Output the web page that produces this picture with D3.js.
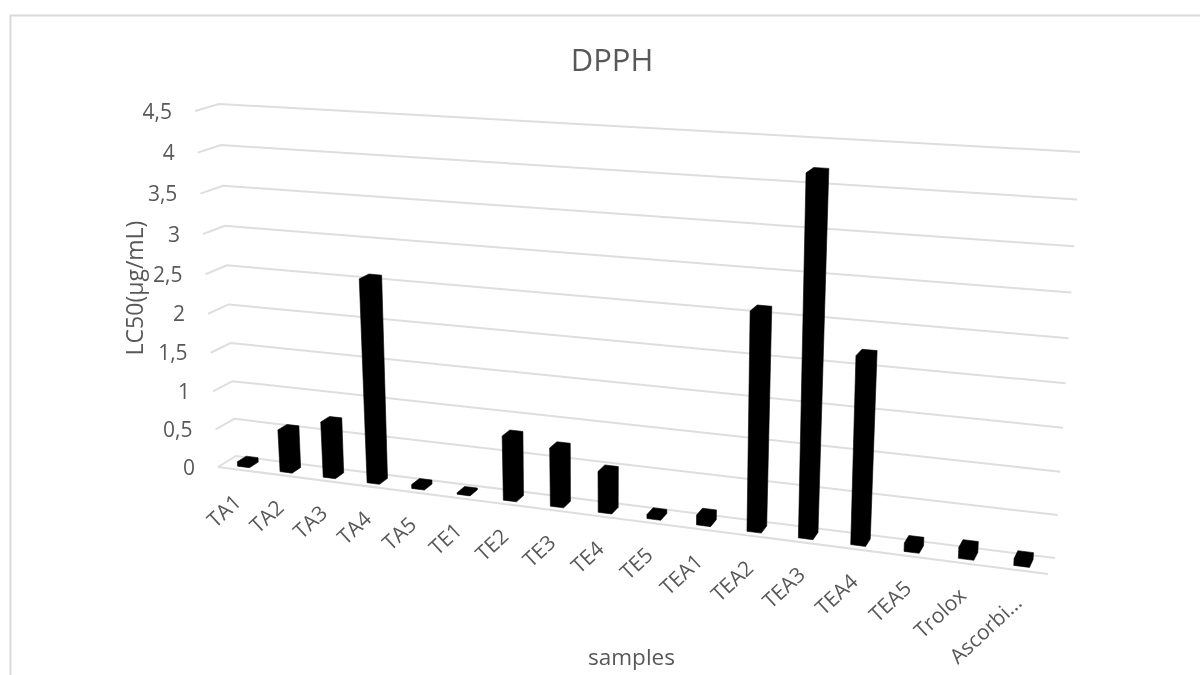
<!DOCTYPE html>
<html><head><meta charset="utf-8">
<script src="https://cdnjs.cloudflare.com/ajax/libs/d3/7.8.5/d3.min.js"></script>
<style>html,body{margin:0;padding:0;background:#fff;overflow:hidden}svg{display:block}text{font-family:"Open Sans",sans-serif;fill:#595959}</style>
</head><body><svg id="c" width="1200" height="675"></svg>
<script>
const categories = ["TA1","TA2","TA3","TA4","TA5","TE1","TE2","TE3","TE4","TE5","TEA1","TEA2","TEA3","TEA4","TEA5","Trolox","Ascorbi…"];
const values = [0.06,0.55,0.72,2.58,0.05,0.02,0.81,0.73,0.51,0.05,0.12,2.61,4.2,2.21,0.1,0.13,0.08];
const tickValues = [0,0.5,1,1.5,2,2.5,3,3.5,4,4.5];
const tickLabels = ["0","0,5","1","1,5","2","2,5","3","3,5","4","4,5"];

const svg = d3.select("#c");
const defs = svg.append("defs");
defs.append("filter").attr("id","soft").append("feGaussianBlur").attr("stdDeviation",0.45);
const root = svg.append("g").attr("filter","url(#soft)");
const GRID = "#dedede";
const mix = (a,b,k)=>a+(b-a)*k;
const band = d3.scaleBand().domain(categories).range([0,1]).paddingInner(0.72).paddingOuter(0.36);
const warpX = t => 0.86*t/(1-0.14*t);
const warpV = w => 0.945*w/(1-0.055*w);
const valueScale = d3.scaleLinear().domain([0,4.5]).range([0,1]);
const frontX = d3.scaleLinear().range([218,1048]), frontY = d3.scaleLinear().range([467,574]);
const backX = d3.scaleLinear().range([236,1055]), backY = d3.scaleLinear().range([456,558]);
const liftXF = d3.scaleLinear().range([-23,20]), liftYF = d3.scaleLinear().range([-356,-410]);
const liftXB = d3.scaleLinear().range([-17,25]), liftYB = d3.scaleLinear().range([-352,-406]);
function project(t,z,v){
  const u = warpX(t), w = warpV(valueScale(v));
  return [
    mix(frontX(u),backX(u),z)+w*mix(liftXF(u),liftXB(u),z),
    mix(frontY(u),backY(u),z)+w*mix(liftYF(u),liftYB(u),z)
  ];
}
const line = d3.line();
root.append("path").attr("d",line([[10.5,675],[10.5,15.5],[1200,15.5]])).attr("fill","none").attr("stroke","#d9d9d9").attr("stroke-width",2);
root.append("g").selectAll("path").data(tickValues).join("path")
  .attr("d",v=>line([project(0,0,v),project(0,1,v),project(1,1,v)]))
  .attr("fill","none").attr("stroke",GRID).attr("stroke-width",2);
root.append("path").attr("d",line([project(0,0,0),project(1,0,0)])).attr("fill","none").attr("stroke",GRID).attr("stroke-width",2);
root.append("g").selectAll("text").data(tickValues).join("text")
  .attr("x",v=>project(0,0,v)[0]-23).attr("y",v=>project(0,0,v)[1]+7.5)
  .attr("text-anchor","end").attr("font-size",21).text((v,i)=>tickLabels[i]);
const z0=0.25,z1=0.75;
root.append("g").selectAll("path").data(categories).join("path")
  .attr("d",(c,i)=>{
    const a=band(c),b=a+band.bandwidth(),pts=[];
    for(const t of [a,b]) for(const z of [z0,z1]) for(const v of [0,values[i]]) pts.push(project(t,z,v));
    return line(d3.polygonHull(pts))+"Z";
  }).attr("fill","#000").attr("stroke","#000").attr("stroke-width",0.6).attr("stroke-linejoin","round");
root.append("g").selectAll("text").data(categories).join("text")
  .attr("text-anchor","end").attr("font-size",21)
  .attr("transform",c=>{const p=project(band(c)+band.bandwidth()/2,0,0);return `translate(${p[0]+3.5},${p[1]+34}) rotate(-43)`;})
  .text(c=>c);
root.append("text").attr("x",612).attr("y",71).attr("text-anchor","middle").attr("font-size",31).text("DPPH");
root.append("text").attr("x",631.5).attr("y",665).attr("text-anchor","middle").attr("font-size",22.5).text("samples");
root.append("text").attr("transform","translate(143,288) rotate(-90)").attr("text-anchor","middle").attr("font-size",23).text("LC50(µg/mL)");
</script></body></html>
